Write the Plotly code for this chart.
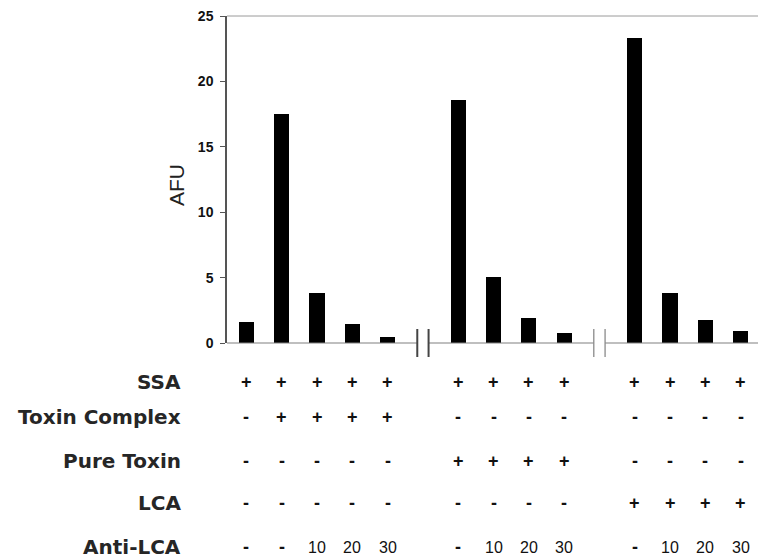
import plotly.graph_objects as go

# ---------------- data ----------------
afu_toxin_complex = [1.6, 17.5, 3.8, 1.45, 0.45]
afu_pure_toxin = [18.6, 5.05, 1.9, 0.8]
afu_lca = [23.3, 3.8, 1.75, 0.9]
groups = [afu_toxin_complex, afu_pure_toxin, afu_lca]

row_labels = ["SSA", "Toxin Complex", "Pure Toxin", "LCA", "Anti-LCA"]
row_ssa = ["+"] * 13
row_toxin_complex = ["-", "+", "+", "+", "+", "-", "-", "-", "-", "-", "-", "-", "-"]
row_pure_toxin = ["-", "-", "-", "-", "-", "+", "+", "+", "+", "-", "-", "-", "-"]
row_lca = ["-", "-", "-", "-", "-", "-", "-", "-", "-", "+", "+", "+", "+"]
row_anti_lca = ["-", "-", "10", "20", "30", "-", "10", "20", "30", "-", "10", "20", "30"]
table_rows = [row_ssa, row_toxin_complex, row_pure_toxin, row_lca, row_anti_lca]

y_ticks = [0, 5, 10, 15, 20, 25]

# ---------------- layout helpers ----------------
OFF = 8  # default page body margin
W, H = 766 - OFF, 558 - OFF
ML = 227 - OFF
MT = 16 - OFF
MR = 766 - 759
MB = 558 - 343
plot_h = H - MT - MB
plot_w = W - ML - MR

xs, ys, breaks = [], [], []
slot = 0
for gi, g in enumerate(groups):
    if gi > 0:
        breaks.append(slot)
        slot += 1
    for v in g:
        xs.append(slot)
        ys.append(v)
        slot += 1

xmin, xmax = xs[0] - 0.55, xs[-1] + 0.52


def py(pix):
    """reference pixel row -> paper y"""
    return (558 - MB - pix) / plot_h


def px(pix):
    """reference pixel column -> paper x"""
    return (pix - 227) / plot_w


fig = go.Figure()
fig.add_trace(go.Bar(x=xs, y=ys, width=0.43, marker=dict(color="black", line=dict(width=0)),
                     showlegend=False, hoverinfo="y"))

shapes = []
half_gap = 0.16
# broken baseline
seg_edges = [xmin] + [v for b in breaks for v in (b - half_gap, b + half_gap)] + [xmax]
for i in range(0, len(seg_edges), 2):
    shapes.append(dict(type="line", xref="x", yref="paper", x0=seg_edges[i], x1=seg_edges[i + 1],
                       y0=0, y1=0, line=dict(color="#808080", width=1.2)))
# break marks
for bi, b in enumerate(breaks):
    col = "#444444" if bi == 0 else "#8a8a8a"
    wd = 2 if bi == 0 else 1.3
    for d in (-half_gap, half_gap):
        shapes.append(dict(type="line", xref="x", yref="paper", x0=b + d, x1=b + d,
                           y0=py(329), y1=py(357), line=dict(color=col, width=wd)))
# top and right frame lines
shapes.append(dict(type="line", xref="paper", yref="paper", x0=0, x1=1, y0=1, y1=1,
                   line=dict(color="#9a9a9a", width=1)))
shapes.append(dict(type="line", xref="paper", yref="paper", x0=1, x1=1, y0=0, y1=1,
                   line=dict(color="#9a9a9a", width=1)))

annotations = []
# y axis title
annotations.append(dict(text="AFU", xref="paper", yref="paper", x=px(177), y=py(185),
                        xanchor="center", yanchor="middle",
                        textangle=-90, showarrow=False,
                        font=dict(family="Liberation Sans, Arial", size=21, color="#222")))

row_pix = [382, 417, 461, 503, 547]
for label, rp, vals in zip(row_labels, row_pix, table_rows):
    annotations.append(dict(text=label, xref="paper", yref="paper", x=px(183), y=py(rp),
                            xanchor="right", yanchor="middle", showarrow=False,
                            font=dict(family="DejaVu Sans", size=20, color="#262626", weight="bold")))
    for xv, s in zip(xs, vals):
        if s in ("+", "-"):
            f = dict(family="Liberation Sans, Arial", size=18, color="#111", weight="bold")
        else:
            f = dict(family="Liberation Sans, Arial", size=16, color="#111")
        annotations.append(dict(text=s, xref="x", yref="paper", x=xv, y=py(rp),
                                xanchor="center", yanchor="middle", showarrow=False, font=f))

fig.update_layout(
    width=W, height=H,
    margin=dict(l=ML, r=MR, t=MT, b=MB, autoexpand=False),
    paper_bgcolor="white", plot_bgcolor="white",
    xaxis=dict(range=[xmin, xmax], showticklabels=False, showgrid=False, zeroline=False,
               showline=False, ticks="", automargin=False),
    yaxis=dict(range=[0, 25], tickvals=y_ticks, ticks="outside", ticklen=5, tickcolor="#555",
               tickwidth=1.2, showline=True, linecolor="#555", linewidth=1.5, showgrid=False,
               zeroline=False, ticklabelstandoff=4, ticklabeloverflow="allow", automargin=False,
               tickfont=dict(family="Liberation Sans, Arial", size=14, color="#111", weight="bold")),
    shapes=shapes, annotations=annotations, bargap=0,
)

fig.write_html("out.html")
